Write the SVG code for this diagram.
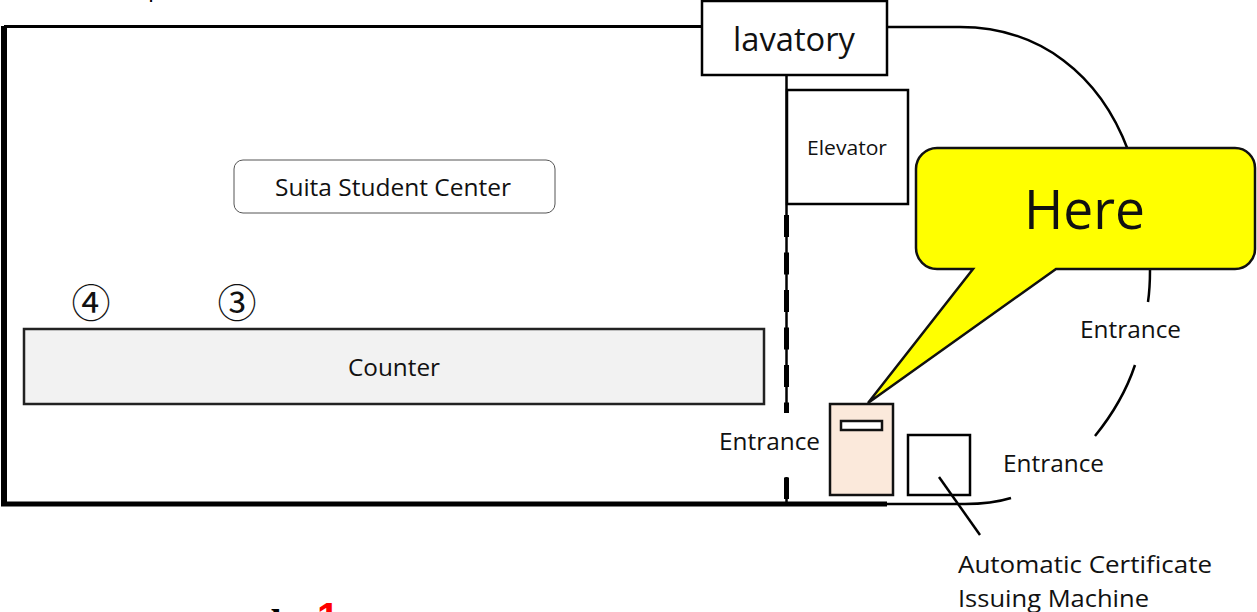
<svg xmlns="http://www.w3.org/2000/svg" width="1257" height="612" viewBox="0 0 1257 612">
<style>
text{font-family:"Open Sans","Noto Sans",sans-serif;fill:#111}
.b{fill:#fff;stroke:#000;stroke-width:2.5}
.l{fill:none;stroke:#000;stroke-width:2.5}
.c{font-family:"Noto Sans CJK JP",sans-serif}
</style>
<rect width="1257" height="612" fill="#fff"/>
<g id="issuer"><rect class="b" x="908" y="435" width="62" height="60"/></g>
<g id="connectors">
<path fill="none" stroke="#000" stroke-width="3" d="M4 26.500H702"/>
<path class="l" d="M887 27H960C1040 27 1100 75 1128 150"/>
<path class="l" d="M1150 270C1150 285 1149 295 1148 302M1135 365C1126 392 1112 415 1095 436M887 504H965C985 504 998 502 1011 498"/>
<path fill="none" stroke="#000" stroke-width="6" d="M4 26V504"/>
<path fill="none" stroke="#000" stroke-width="5" d="M1 504H887"/>
<path class="l" d="M786.500 75V502"/>
<path fill="none" stroke="#000" stroke-width="5" stroke-dasharray="22 15.500" d="M786.500 215V499"/>
<path class="l" d="M939 477L980 535"/>
</g>
<g id="lavatory"><rect class="b" x="702" y="1" width="185" height="74"/><text x="733" y="51" font-size="33" textLength="122" lengthAdjust="spacingAndGlyphs">lavatory</text></g>
<g id="elevator"><rect class="b" x="787" y="90" width="121" height="114"/><text x="807" y="155" font-size="20" textLength="80" lengthAdjust="spacingAndGlyphs">Elevator</text></g>
<g id="center"><rect x="234" y="160" width="321" height="53" rx="9" fill="#fff" stroke="#555" stroke-width="1"/><text x="275" y="196" font-size="24" textLength="236" lengthAdjust="spacingAndGlyphs">Suita Student Center</text></g>
<g id="counter"><rect x="24" y="329" width="740" height="75" fill="#f2f2f2" stroke="#222" stroke-width="2.500"/><text x="348" y="376" font-size="24" textLength="92" lengthAdjust="spacingAndGlyphs">Counter</text></g>
<g id="seat-4"><text class="c" x="91" y="317" font-size="39" text-anchor="middle">④</text></g>
<g id="seat-3"><text class="c" x="237" y="317" font-size="39" text-anchor="middle">③</text></g>
<g id="here"><path d="M937 148H1235A20 20 0 0 1 1255 168V249A20 20 0 0 1 1235 269H1056L868 403L973 269H937A21 21 0 0 1 916 248V169A21 21 0 0 1 937 148Z" fill="#ff0" stroke="#111" stroke-width="2.500"/><text x="1024" y="229" font-size="55" textLength="121" lengthAdjust="spacingAndGlyphs">Here</text></g>
<g id="machine"><rect x="830" y="404" width="63" height="91" fill="#fbe9db" stroke="#111" stroke-width="2.500"/><rect x="841" y="421" width="41" height="9" fill="#fff" stroke="#111" stroke-width="2.500"/></g>
<g id="entrance-west"><rect x="715" y="413" width="112" height="64" fill="#fff"/><text x="719" y="450" font-size="24" textLength="101" lengthAdjust="spacingAndGlyphs">Entrance</text></g>
<g id="entrance-east"><text x="1080" y="338" font-size="24" textLength="101" lengthAdjust="spacingAndGlyphs">Entrance</text></g>
<g id="entrance-south"><text x="1003" y="472" font-size="24" textLength="101" lengthAdjust="spacingAndGlyphs">Entrance</text></g>
<g id="machine-label"><text x="958" y="573" font-size="24" textLength="254" lengthAdjust="spacingAndGlyphs">Automatic Certificate</text>
<text x="958" y="607" font-size="24" textLength="191" lengthAdjust="spacingAndGlyphs">Issuing Machine</text></g>
<text x="317" y="631" font-size="40" font-weight="bold" style="font-family:'Liberation Sans',sans-serif;fill:#f00">1</text>
<text x="271" y="637" font-size="40" font-weight="bold" style="font-family:'Liberation Serif',serif;fill:#000">b</text>
<text x="148" y="-4" font-size="24" style="fill:#000">p</text>
</svg>
